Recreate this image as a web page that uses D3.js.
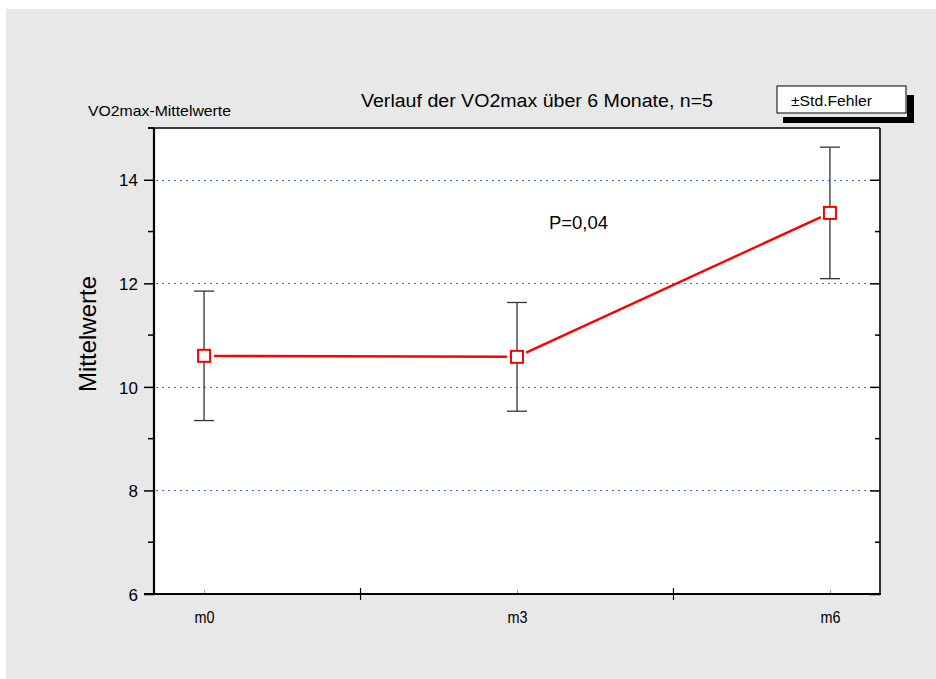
<!DOCTYPE html>
<html>
<head>
<meta charset="utf-8">
<script src="https://cdn.jsdelivr.net/npm/d3@7"></script>
<style>
  html, body { margin: 0; padding: 0; background: #ffffff; }
  svg { display: block; }
  text { font-family: "Liberation Sans", Arial, sans-serif; fill: #000; }
</style>
</head>
<body>
<svg id="chart" width="936" height="679"></svg>
<script>
// Zeitpunkte, Mittelwerte und Standardfehler der VO2max
const categories = ["m0", "m3", "m6"];
const means = [10.6, 10.58, 13.36];
const stdErrors = [1.25, 1.05, 1.27];
const majorTicks = [6, 8, 10, 12, 14];
const minorTicks = [7, 9, 11, 13, 15];
const gridValues = [8, 10, 12, 14];

const svg = d3.select("#chart");

// Hintergrund
svg.append("rect").attr("x", 6).attr("y", 9).attr("width", 930).attr("height", 670)
  .attr("fill", "#e8e8e8");

const plot = { left: 154, right: 880, top: 128, bottom: 594 };

const y = d3.scaleLinear().domain([6, 15]).range([plot.bottom, plot.top]);
const x = d3.scalePoint().domain(categories).range([plot.left, plot.right]).padding(0.16);
const crisp = v => Math.round(v) + 0.5;

// Zeichenfläche
svg.append("rect")
  .attr("x", plot.left).attr("y", plot.top)
  .attr("width", plot.right - plot.left).attr("height", plot.bottom - plot.top)
  .attr("fill", "#ffffff");

// Gitterlinien (gepunktet, blau)
svg.append("g").selectAll("line").data(gridValues).join("line")
  .attr("x1", plot.left + 2).attr("x2", plot.right - 2)
  .attr("y1", d => crisp(y(d))).attr("y2", d => crisp(y(d)))
  .attr("stroke", "#3f6ae0").attr("stroke-width", 1.2)
  .attr("stroke-dasharray", "2,4");

// linke Achse: Haupt- und Nebenstriche
const yAxis = svg.append("g").attr("transform", `translate(${plot.left},0)`)
  .call(d3.axisLeft(y).tickValues(majorTicks).tickSize(10).tickPadding(6).tickFormat(d3.format("d")));
yAxis.select(".domain").remove();
yAxis.selectAll(".tick line").attr("stroke", "#000").attr("stroke-width", 1.5);
yAxis.selectAll(".tick text").attr("font-size", 17).attr("font-family", "Liberation Sans, Arial, sans-serif")
  .attr("dy", "0.36em");

svg.append("g").selectAll("line").data(minorTicks).join("line")
  .attr("x1", plot.left - 6).attr("x2", plot.left)
  .attr("y1", d => y(d)).attr("y2", d => y(d))
  .attr("stroke", "#000").attr("stroke-width", 1.5);

// rechte Achse: Striche nach innen
const yRight = svg.append("g").attr("transform", `translate(${plot.right},0)`)
  .call(d3.axisLeft(y).tickValues(majorTicks).tickSize(10).tickFormat(""));
yRight.select(".domain").remove();
yRight.selectAll(".tick line").attr("stroke", "#000").attr("stroke-width", 1.5);
svg.append("g").selectAll("line").data(minorTicks.filter(d => d < 15)).join("line")
  .attr("x1", plot.right - 5).attr("x2", plot.right)
  .attr("y1", d => y(d)).attr("y2", d => y(d))
  .attr("stroke", "#000").attr("stroke-width", 1.5);

// Rahmen
svg.append("line").attr("x1", plot.left).attr("x2", plot.left).attr("y1", plot.top).attr("y2", plot.bottom)
  .attr("stroke", "#000").attr("stroke-width", 2.2);
svg.append("line").attr("x1", plot.left - 10).attr("x2", plot.right + 1).attr("y1", plot.bottom).attr("y2", plot.bottom)
  .attr("stroke", "#000").attr("stroke-width", 2.2);
svg.append("line").attr("x1", plot.left - 6).attr("x2", plot.right).attr("y1", plot.top).attr("y2", plot.top)
  .attr("stroke", "#000").attr("stroke-width", 1.6);
svg.append("line").attr("x1", plot.right).attr("x2", plot.right).attr("y1", plot.top).attr("y2", plot.bottom)
  .attr("stroke", "#000").attr("stroke-width", 1.6);

// untere Achse: Beschriftung der Zeitpunkte
const xAxis = svg.append("g").attr("transform", `translate(0,${plot.bottom})`)
  .call(d3.axisBottom(x).tickSize(3).tickPadding(14));
xAxis.select(".domain").remove();
xAxis.selectAll(".tick line").attr("stroke", "#999").attr("stroke-width", 1).attr("transform", "translate(0,-4)");
xAxis.selectAll(".tick text").attr("font-size", 17).attr("font-family", "Liberation Sans, Arial, sans-serif")
  .attr("textLength", 20).attr("lengthAdjust", "spacingAndGlyphs");

// Trennstriche zwischen den Zeitpunkten
const mids = d3.pairs(categories).map(([a, b]) => (x(a) + x(b)) / 2);
svg.append("g").selectAll("line").data(mids).join("line")
  .attr("x1", d => d).attr("x2", d => d)
  .attr("y1", plot.bottom - 6).attr("y2", plot.bottom + 6)
  .attr("stroke", "#000").attr("stroke-width", 1.2);

// Fehlerbalken (± Standardfehler)
const pts = categories.map((c, i) => ({ c, m: means[i], se: stdErrors[i] }));
const eb = svg.append("g").attr("stroke", "#333").attr("stroke-width", 1.3);
eb.selectAll("line.v").data(pts).join("line").attr("class", "v")
  .attr("x1", d => x(d.c)).attr("x2", d => x(d.c))
  .attr("y1", d => y(d.m + d.se)).attr("y2", d => y(d.m - d.se));
eb.selectAll("line.top").data(pts).join("line").attr("class", "top")
  .attr("x1", d => x(d.c) - 10).attr("x2", d => x(d.c) + 10)
  .attr("y1", d => y(d.m + d.se)).attr("y2", d => y(d.m + d.se));
eb.selectAll("line.bot").data(pts).join("line").attr("class", "bot")
  .attr("x1", d => x(d.c) - 10).attr("x2", d => x(d.c) + 10)
  .attr("y1", d => y(d.m - d.se)).attr("y2", d => y(d.m - d.se));

// Verbindungslinie zwischen den Mittelwerten (mit Abstand zu den Markern)
const gap = 10;
const segs = d3.pairs(pts).map(([a, b]) => {
  const x1 = x(a.c), y1 = y(a.m), x2 = x(b.c), y2 = y(b.m);
  const len = Math.hypot(x2 - x1, y2 - y1);
  const ux = (x2 - x1) / len, uy = (y2 - y1) / len;
  return { x1: x1 + ux * gap, y1: y1 + uy * gap, x2: x2 - ux * gap, y2: y2 - uy * gap };
});
svg.append("g").selectAll("line").data(segs).join("line")
  .attr("x1", d => d.x1).attr("y1", d => d.y1).attr("x2", d => d.x2).attr("y2", d => d.y2)
  .attr("stroke", "#ff0000").attr("stroke-width", 2.4);

// Marker
const ms = 12;
svg.append("g").selectAll("rect").data(pts).join("rect")
  .attr("x", d => x(d.c) - ms / 2).attr("y", d => y(d.m) - ms / 2)
  .attr("width", ms).attr("height", ms)
  .attr("fill", "#ffffff").attr("stroke", "#ff0000").attr("stroke-width", 2);

// Texte
svg.append("text").attr("x", 361).attr("y", 107).attr("font-size", 18)
  .attr("textLength", 352).attr("lengthAdjust", "spacingAndGlyphs")
  .text("Verlauf  der VO2max über 6 Monate, n=5");
svg.append("text").attr("x", 88).attr("y", 116).attr("font-size", 15)
  .attr("textLength", 143).attr("lengthAdjust", "spacingAndGlyphs")
  .text("VO2max-Mittelwerte");
svg.append("text").attr("transform", "translate(96,334) rotate(-90)")
  .attr("text-anchor", "middle").attr("font-size", 24)
  .text("Mittelwerte");
svg.append("text").attr("x", 549).attr("y", 229).attr("font-size", 18)
  .attr("textLength", 59).attr("lengthAdjust", "spacingAndGlyphs")
  .text("P=0,04");

// Legende mit Schatten
svg.append("rect").attr("x", 907).attr("y", 95).attr("width", 7).attr("height", 28).attr("fill", "#000");
svg.append("rect").attr("x", 783).attr("y", 117).attr("width", 131).attr("height", 6).attr("fill", "#000");
svg.append("rect").attr("x", 777).attr("y", 86).attr("width", 129).attr("height", 27)
  .attr("fill", "#ffffff").attr("stroke", "#000").attr("stroke-width", 1);
svg.append("text").attr("x", 791).attr("y", 106).attr("font-size", 15)
  .attr("textLength", 81).attr("lengthAdjust", "spacingAndGlyphs")
  .text("±Std.Fehler");
</script>
</body>
</html>
